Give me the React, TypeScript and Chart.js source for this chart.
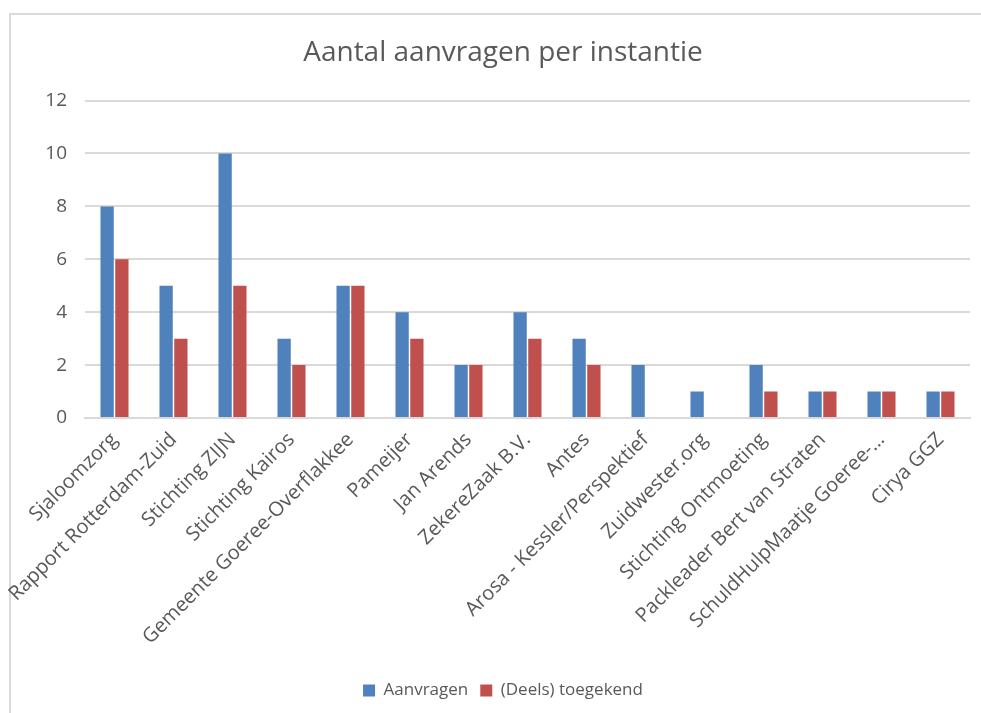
import React, { useEffect, useRef } from "react";
import { Chart, registerables } from "chart.js";

Chart.register(...registerables);

const categories = [
  "Sjaloomzorg",
  "Rapport Rotterdam-Zuid",
  "Stichting ZIJN",
  "Stichting Kairos",
  "Gemeente Goeree-Overflakkee",
  "Pameijer",
  "Jan Arends",
  "ZekereZaak B.V.",
  "Antes",
  "Arosa - Kessler/Perspektief",
  "Zuidwester.org",
  "Stichting Ontmoeting",
  "Packleader Bert van Straten",
  "SchuldHulpMaatje Goeree-…",
  "Cirya GGZ",
];

const aanvragen = [8, 5, 10, 3, 5, 4, 2, 4, 3, 2, 1, 2, 1, 1, 1];
const toegekend = [6, 3, 5, 2, 5, 3, 2, 3, 2, 0, 0, 1, 1, 1, 1];

const FONT = "'Open Sans', 'Liberation Sans', sans-serif";
const TEXT = "#595959";

export default function App() {
  const ref = useRef<HTMLCanvasElement | null>(null);

  useEffect(() => {
    if (!ref.current) return;
    const chart = new Chart(ref.current, {
      type: "bar",
      data: {
        labels: categories,
        datasets: [
          {
            label: "Aanvragen",
            data: aanvragen,
            backgroundColor: "#4F81BD",
            categoryPercentage: 0.5,
            barPercentage: 0.9,
          },
          {
            label: "(Deels) toegekend",
            data: toegekend,
            backgroundColor: "#C0504D",
            categoryPercentage: 0.5,
            barPercentage: 0.9,
          },
        ],
      },
      options: {
        animation: false,
        responsive: false,
        layout: { padding: { left: 36, right: 11, top: 0, bottom: 4 } },
        plugins: {
          title: {
            display: true,
            text: "Aantal aanvragen per instantie",
            color: TEXT,
            font: { family: FONT, size: 28, weight: "normal" },
            padding: { top: 36, bottom: 31 },
          },
          legend: {
            position: "bottom",
            labels: {
              color: TEXT,
              font: { family: FONT, size: 17 },
              boxWidth: 12,
              boxHeight: 12,
              padding: 12,
            },
          },
          tooltip: { enabled: false },
        },
        scales: {
          x: {
            grid: { display: false, drawTicks: false },
            border: { color: "#D9D9D9", width: 2 },
            ticks: {
              color: TEXT,
              font: { family: FONT, size: 20 },
              maxRotation: 45,
              minRotation: 45,
              autoSkip: false,
              padding: 10,
            },
            afterFit: (s: any) => {
              s.height = 252;
            },
          },
          y: {
            min: 0,
            max: 12,
            ticks: {
              stepSize: 2,
              color: TEXT,
              font: { family: FONT, size: 19 },
              padding: 18,
            },
            grid: { color: "#D9D9D9", lineWidth: 2, drawTicks: false },
            border: { display: false },
            afterFit: (s: any) => {
              s.width = 49;
            },
          },
        },
      },
    });
    return () => chart.destroy();
  }, []);

  return (
    <div
      style={{
        position: "fixed",
        left: 0,
        top: 0,
        width: 981,
        height: 713,
        background: "#fff",
        overflow: "hidden",
      }}
    >
      <div
        style={{
          position: "absolute",
          left: 9,
          top: 13,
          width: 1000,
          height: 800,
          borderLeft: "2px solid #D9D9D9",
          borderTop: "2px solid #D9D9D9",
        }}
      />
      <canvas
        ref={ref}
        width={981}
        height={713}
        style={{ position: "absolute", left: 0, top: 0 }}
      />
    </div>
  );
}
